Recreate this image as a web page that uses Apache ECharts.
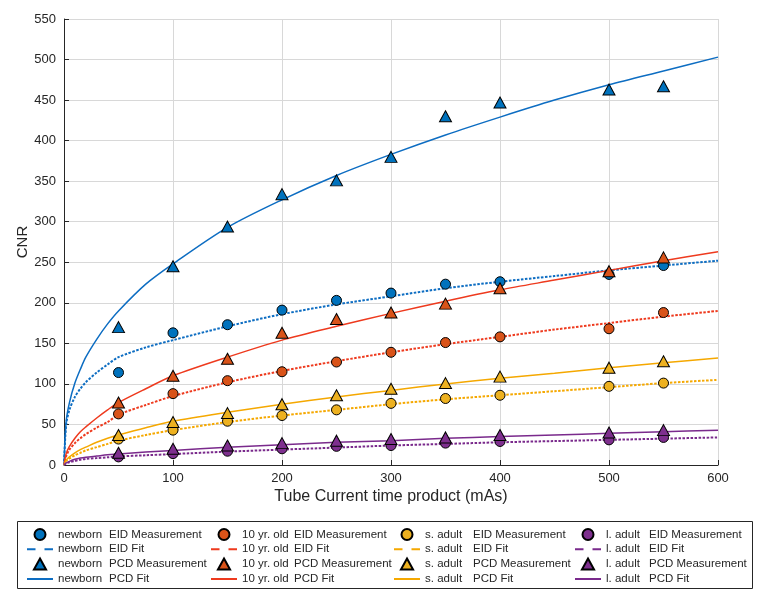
<!DOCTYPE html>
<html><head><meta charset="utf-8">
<script src="https://cdn.jsdelivr.net/npm/echarts@6/dist/echarts.min.js"></script>
<style>html,body{margin:0;padding:0;background:#fff}#c{width:764px;height:604px}</style>
</head><body><div id="c"></div>
<script>
// ---- data ----
const groups = ['newborn', '10 yr. old', 's. adult', 'l. adult'];
const measX = [50, 100, 150, 200, 250, 300, 350, 400, 500, 550];
const newbornEID = [114, 163, 173, 191, 203, 212, 223, 226, 235, 246];
const newbornPCD = [170, 245, 294, 334, 351, 380, 430, 447, 463, 467];
const tenEID = [63, 88, 104, 115, 127, 139, 151, 158, 168, 188];
const tenPCD = [77, 110, 131, 163, 180, 188, 199, 218, 239, 256];
const sAdultEID = [32, 43, 54, 61, 68, 76, 82, 86, 97, 101];
const sAdultPCD = [37, 53, 64, 75, 86, 94, 101, 109, 120, 128];
const lAdultEID = [10, 14, 17, 20, 23, 24, 27, 29, 31, 34];
const lAdultPCD = [15, 20, 24, 27, 30, 32, 34, 37, 40, 43];

const fitX = [0, 2, 5, 10, 15, 20, 30, 40, 50, 75, 100, 150, 200, 250, 300, 350, 400, 450, 500, 550, 600];
const newbornEIDFit = [0, 50, 68, 84, 94, 102, 114, 124, 133, 145, 154, 171, 186, 198, 208, 218, 226, 233, 240, 246, 252];
const newbornPCDFit = [0, 54, 77, 101, 118, 133, 155, 174, 190, 223, 248, 293, 327, 357, 383, 407, 429, 450, 469, 486, 503];
const tenEIDFit = [0, 11, 19, 27, 33, 38, 46, 53, 62, 74, 85, 102, 116, 128, 139, 149, 158, 167, 175, 183, 190];
const tenPCDFit = [0, 14, 23, 33, 41, 47, 58, 68, 77, 94, 110, 133, 154, 171, 187, 202, 216, 228, 240, 252, 263];
const sAdultEIDFit = [0, 5, 8, 12, 15, 18, 22, 26, 30, 37, 43, 53, 61, 68, 75, 81, 86, 91, 96, 101, 105];
const sAdultPCDFit = [0, 6, 10, 15, 19, 22, 28, 33, 37, 46, 54, 65, 75, 84, 92, 100, 107, 113, 120, 126, 132];
const lAdultEIDFit = [0, 2, 3.5, 5, 6.5, 7.5, 8.5, 9.5, 10.5, 12, 13.5, 16.5, 19, 21.5, 24, 26, 28, 29.5, 31, 32.5, 34];
const lAdultPCDFit = [0, 2.5, 4.5, 7, 8.5, 9.5, 11, 12.5, 13.5, 16, 18, 22, 25, 28, 30, 33, 35, 37, 39, 41, 43];

const kinds = ['EID Measurement', 'EID Fit', 'PCD Measurement', 'PCD Fit'];
const markerColors = ['#0072BD', '#D95319', '#EDB120', '#7E2F8E'];
const lineColors = ['#0D6DC2', '#EE3A1E', '#F5A800', '#7A2A8C'];

// ---- build ----
const measEID = [newbornEID, tenEID, sAdultEID, lAdultEID];
const measPCD = [newbornPCD, tenPCD, sAdultPCD, lAdultPCD];
const fitEID = [newbornEIDFit, tenEIDFit, sAdultEIDFit, lAdultEIDFit];
const fitPCD = [newbornPCDFit, tenPCDFit, sAdultPCDFit, lAdultPCDFit];
const pair = (xs, ys) => xs.map((x, i) => [x, ys[i]]);
const FONT = "'Liberation Sans', Arial, Helvetica, sans-serif";
const TXT = '#262626';

// legend icon shapes (bounding box 26 x 11)
const CORNERS = 'M0,0h0.01v0.01h-0.01z M25.99,10.99h0.01v0.01h-0.01z ';
const ICON_SOLID = 'path://' + CORNERS + 'M0,4.5h26v2h-26z';
const ICON_DASHED = 'path://' + CORNERS + 'M0,4.5h8.5v2h-8.5z M17.5,4.5h8.5v2h-8.5z';
const ICON_TRI = 'path://M5.5,0L11,10L0,10Z';

const series = [];
const nameParts = {};
groups.forEach((g, gi) => {
  const nm = k => { const n = g + ' ' + k; nameParts[n] = [g, k]; return n; };
  series.push({
    name: nm(kinds[0]), type: 'scatter', z: 4, symbol: 'circle', symbolSize: 10,
    data: pair(measX, measEID[gi]),
    itemStyle: { color: markerColors[gi], borderColor: '#000', borderWidth: 1, opacity: 1 }
  });
  series.push({
    name: nm(kinds[1]), type: 'line', z: 2, symbol: 'none', smooth: 0.3,
    data: pair(fitX, fitEID[gi]),
    itemStyle: { color: lineColors[gi] },
    lineStyle: { color: lineColors[gi], width: 2, type: [2.5, 1.5] }
  });
  series.push({
    name: nm(kinds[2]), type: 'scatter', z: 5, symbol: 'triangle', symbolSize: [12, 11],
    data: pair(measX, measPCD[gi]),
    itemStyle: { color: markerColors[gi], borderColor: '#000', borderWidth: 1, opacity: 1 }
  });
  series.push({
    name: nm(kinds[3]), type: 'line', z: 3, symbol: 'none', smooth: 0.3,
    data: pair(fitX, fitPCD[gi]),
    itemStyle: { color: lineColors[gi] },
    lineStyle: { color: lineColors[gi], width: 1.5, type: 'solid' }
  });
});

const legendLefts = [27, 211, 394, 575];
const legendTextW = [51, 52, 48, 43];
const legends = groups.map((g, gi) => ({
  show: true, orient: 'vertical', left: legendLefts[gi], top: 528, padding: 0,
  itemWidth: 26, itemHeight: 11, itemGap: 2.3, selectedMode: false, symbolKeepAspect: true,
  data: kinds.map((k, ki) => {
    const d = { name: g + ' ' + k };
    if (ki === 0) d.icon = 'circle';
    if (ki === 2) d.icon = ICON_TRI;
    if (ki === 1 || ki === 3) {
      d.icon = ki === 1 ? ICON_DASHED : ICON_SOLID;
      d.itemStyle = { color: lineColors[gi], borderWidth: 0, opacity: 1 };
    }
    return d;
  }),
  formatter: name => '{a|' + nameParts[name][0] + '}{b|' + nameParts[name][1] + '}',
  textStyle: {
    fontFamily: FONT, fontSize: 11.5, color: TXT,
    rich: {
      a: { width: legendTextW[gi], fontFamily: FONT, fontSize: 11.5, color: TXT, lineHeight: 11 },
      b: { fontFamily: FONT, fontSize: 11.5, color: TXT, lineHeight: 11 }
    }
  }
}));

const chart = echarts.init(document.getElementById('c'), null, { renderer: 'canvas' });
chart.setOption({
  animation: false,
  backgroundColor: '#fff',
  textStyle: { fontFamily: FONT },
  grid: { left: 64, right: 46, top: 19, bottom: 139, containLabel: false },
  xAxis: {
    type: 'value', min: 0, max: 600, interval: 100,
    name: 'Tube Current time product (mAs)', nameLocation: 'middle', nameGap: 24,
    nameMoveOverlap: false,
    nameTextStyle: { fontFamily: FONT, fontSize: 16, color: TXT },
    axisLine: { show: true, lineStyle: { color: TXT, width: 1 } },
    axisTick: { show: true, inside: true, length: 5, lineStyle: { color: TXT } },
    axisLabel: { fontFamily: FONT, fontSize: 13, color: TXT, margin: 7 },
    splitLine: { show: true, lineStyle: { color: '#D8D8D8', width: 1 } }
  },
  yAxis: {
    type: 'value', min: 0, max: 550, interval: 50,
    name: 'CNR', nameLocation: 'middle', nameGap: 34, nameRotate: 90,
    nameMoveOverlap: false,
    nameTextStyle: { fontFamily: FONT, fontSize: 15, color: TXT },
    axisLine: { show: true, lineStyle: { color: TXT, width: 1 } },
    axisTick: { show: true, inside: true, length: 5, lineStyle: { color: TXT } },
    axisLabel: { fontFamily: FONT, fontSize: 13, color: TXT, margin: 8 },
    splitLine: { show: true, lineStyle: { color: '#D8D8D8', width: 1 } }
  },
  legend: legends,
  graphic: [{
    type: 'rect', z: 0, silent: true,
    shape: { x: 17.5, y: 521.5, width: 735, height: 67 },
    style: { fill: '#fff', stroke: TXT, lineWidth: 1 }
  }],
  series: series
});
</script></body></html>
